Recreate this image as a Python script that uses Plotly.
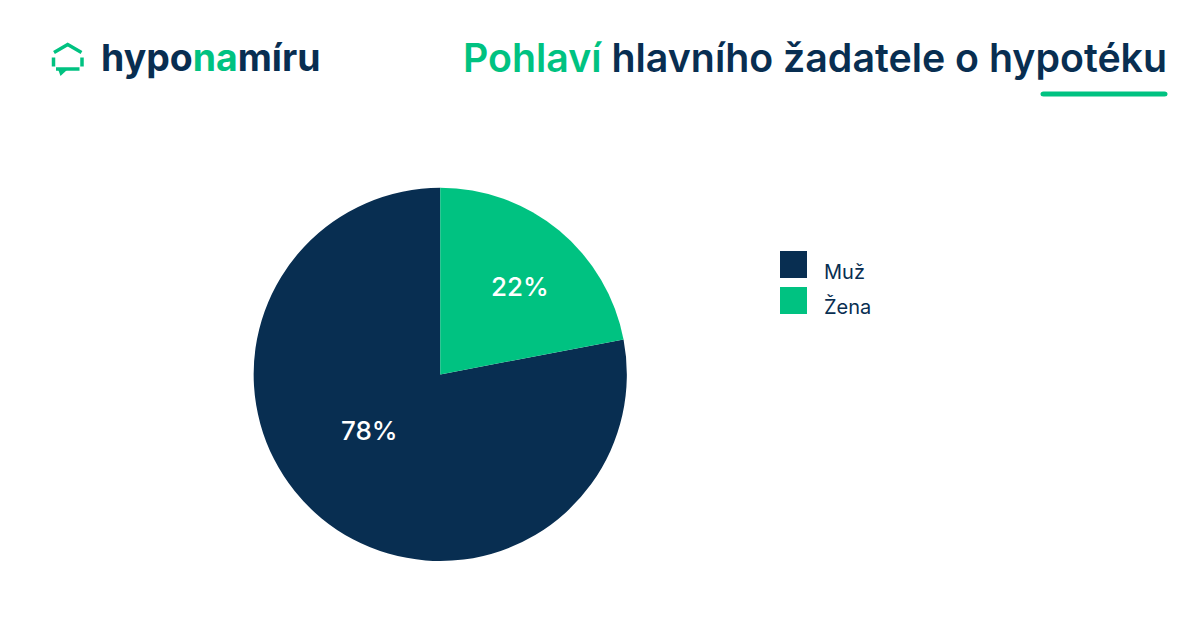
import plotly.graph_objects as go

W, H = 1200, 628
NAVY = "#082e51"
GREEN = "#00c281"
FONT = "Inter"
OFFSET = 8  # the page body adds this margin around the figure

categories = ["Muž", "Žena"]
values = [78, 22]
colors = [NAVY, GREEN]
title_parts = ["Pohlaví", " hlavního žadatele o hypotéku"]
logo_parts = ["hypo", "na", "míru"]


def px(x):
    return (x - OFFSET) / W


def py(y):
    return 1 - (y - OFFSET) / H


def pt(x, y):
    return f"{px(x):.5f},{py(y):.5f}"


def path(points, close=False):
    d = "M " + " L ".join(pt(x, y) for x, y in points)
    return d + (" Z" if close else "")


fig = go.Figure(
    go.Pie(
        labels=categories,
        values=values,
        sort=False,
        direction="clockwise",
        rotation=360 * values[1] / sum(values),
        marker=dict(colors=colors, line=dict(width=0)),
        textinfo="none",
        domain=dict(x=[px(253.5), px(627)], y=[py(561), py(187.8)]),
        showlegend=False,
    )
)

shapes = []
annotations = []

# slice labels
for value, (lx, ly) in zip(values, [(369, 430.5), (519.5, 286)]):
    annotations.append(dict(text=f"{value / sum(values):.0%}", xref="paper", yref="paper",
                            x=px(lx), y=py(ly), xanchor="center", yanchor="middle",
                            showarrow=False,
                            font=dict(family=FONT, size=26, color="white", weight=500)))

# legend
for name, color, y0, ty in zip(categories, colors, [251, 287], [271.5, 306]):
    shapes.append(dict(type="rect", xref="paper", yref="paper", x0=px(780), x1=px(807),
                       y0=py(y0), y1=py(y0 + 27), fillcolor=color, line=dict(width=0)))
    annotations.append(dict(text=name, xref="paper", yref="paper", x=px(822), y=py(ty),
                            xanchor="left", yanchor="middle", showarrow=False,
                            font=dict(family=FONT, size=20, color=NAVY)))

# title underline with rounded ends
shapes.append(dict(
    type="path", xref="paper", yref="paper", fillcolor=GREEN, line=dict(width=0),
    path=(f"M {pt(1043.5, 91.5)} L {pt(1164.5, 91.5)} Q {pt(1167.5, 91.5)} {pt(1167.5, 94)} "
          f"Q {pt(1167.5, 96.5)} {pt(1164.5, 96.5)} L {pt(1043.5, 96.5)} "
          f"Q {pt(1040.5, 96.5)} {pt(1040.5, 94)} Q {pt(1040.5, 91.5)} {pt(1043.5, 91.5)} Z"),
))

# logo icon
icon_segments = [
    [(54, 52.5), (67.7, 44.5), (81.5, 52.5)],
    [(53.5, 57.5), (53.5, 66.5)],
    [(82, 57.5), (82, 66.5)],
    [(56, 69), (79.5, 69)],
]
for seg in icon_segments:
    shapes.append(dict(type="path", xref="paper", yref="paper", path=path(seg),
                       line=dict(color=GREEN, width=3.5)))
shapes.append(dict(type="path", xref="paper", yref="paper",
                   path=path([(58, 69), (68, 69), (60.5, 76)], close=True),
                   fillcolor=GREEN, line=dict(width=0)))

# title
title_html = f"<span style='color:{GREEN}'>{title_parts[0]}</span>{title_parts[1]}"
annotations.append(dict(text=title_html, xref="paper", yref="paper", x=px(1169), y=py(57.5),
                        xanchor="right", yanchor="middle", showarrow=False,
                        font=dict(family=FONT, size=39.3, color=NAVY, weight=600)))
# logo text
logo_html = f"{logo_parts[0]}<span style='color:{GREEN}'>{logo_parts[1]}</span>{logo_parts[2]}"
annotations.append(dict(text=logo_html, xref="paper", yref="paper", x=px(99), y=py(58),
                        xanchor="left", yanchor="middle", showarrow=False,
                        font=dict(family=FONT, size=37.4, color=NAVY, weight=700)))

fig.update_layout(
    width=W, height=H, margin=dict(l=0, r=0, t=0, b=0),
    paper_bgcolor="white", plot_bgcolor="white",
    shapes=shapes, annotations=annotations,
)
fig.write_html("out.html")
